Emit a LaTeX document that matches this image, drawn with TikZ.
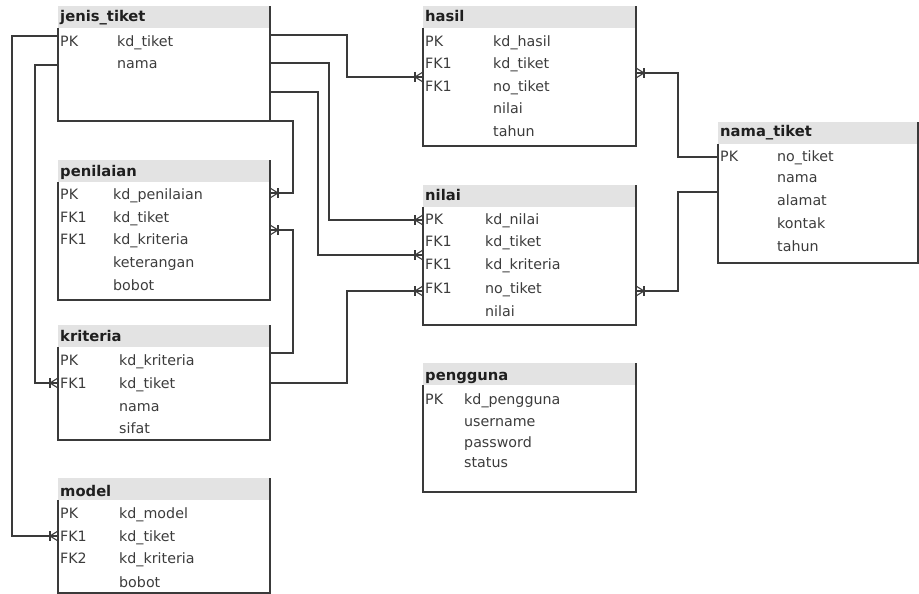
\documentclass[tikz,border=0pt]{standalone}
\usepackage{fontspec}
\setmainfont{DejaVu Sans}
\usetikzlibrary{calc}
\definecolor{hdr}{HTML}{E3E3E3}
\definecolor{ln}{HTML}{3A3A3A}
\definecolor{txt}{HTML}{3C3C3C}
\tikzset{
  tbl/.style={rectangle, inner sep=0pt, outer sep=0pt, anchor=north west, draw=none},
  ttl/.style={anchor=base west, font=\fontsize{14.8}{16}\selectfont\bfseries, text=black!88, inner sep=0pt},
  fld/.style={anchor=base west, font=\fontsize{14.3}{16}\selectfont, text=txt, inner sep=0pt},
  conn/.style={draw=ln, line width=1.1bp},
  border/.style={draw=ln, line width=1.2bp},
}
\newcommand{\erdtbl}[6]{%
  \node[tbl, minimum width=#4bp, minimum height=#5bp] (#1) at (#2,#3) {};
  \fill[hdr] (#1.north west) rectangle ($(#1.north east)+(0,22)$);
  \draw[border] ($(#1.north west)+(0,22)$) -- (#1.south west) -- (#1.south east) -- (#1.north east);
}
\newcommand{\crowfoot}[2]{%
  \begin{scope}[shift={#1}, rotate=#2]
    \draw[conn] (0,-5) -- (-8,0) -- (0,5);
    \draw[conn] (-8,-5) -- (-8,5);
  \end{scope}}
\begin{document}
\begin{tikzpicture}[x=1bp, y=-1bp]
\useasboundingbox (0,0) rectangle (919,594);
% tables
\erdtbl{jt}{58}{6}{212}{115}{}
\erdtbl{hasil}{423}{6}{213}{140}{}
\erdtbl{nt}{718}{122}{200}{141}{}
\erdtbl{pen}{58}{160}{212}{140}{}
\erdtbl{nilai}{423}{185}{213}{140}{}
\erdtbl{kri}{58}{325}{212}{115}{}
\erdtbl{peng}{423}{363}{213}{129}{}
\erdtbl{model}{58}{478}{212}{115}{}
% titles
\node[ttl] (jt-t) at (60,22) {jenis\_tiket};
\node[ttl] (hasil-t) at (425,22) {hasil};
\node[ttl] (nt-t) at (720,137) {nama\_tiket};
\node[ttl] (pen-t) at (60,177) {penilaian};
\node[ttl] (nilai-t) at (425,201) {nilai};
\node[ttl] (kri-t) at (60,341) {kriteria};
\node[ttl] (peng-t) at (425,380) {pengguna};
\node[ttl] (model-t) at (60,496) {model};
% rows
\foreach \k/\f/\y [count=\i] in {PK/kd\_tiket/47, /nama/69}
  {\node[fld] (jt-k\i) at (60,\y) {\k}; \node[fld] (jt-f\i) at (117,\y) {\f};}
\foreach \k/\f/\y [count=\i] in {PK/kd\_hasil/47, FK1/kd\_tiket/69, FK1/no\_tiket/92, /nilai/114, /tahun/137}
  {\node[fld] (hasil-k\i) at (425,\y) {\k}; \node[fld] (hasil-f\i) at (493,\y) {\f};}
\foreach \k/\f/\y [count=\i] in {PK/no\_tiket/162, /nama/183, /alamat/206, /kontak/229, /tahun/252}
  {\node[fld] (nt-k\i) at (720,\y) {\k}; \node[fld] (nt-f\i) at (777,\y) {\f};}
\foreach \k/\f/\y [count=\i] in {PK/kd\_penilaian/200, FK1/kd\_tiket/223, FK1/kd\_kriteria/245, /keterangan/268, /bobot/290}
  {\node[fld] (pen-k\i) at (60,\y) {\k}; \node[fld] (pen-f\i) at (113,\y) {\f};}
\foreach \k/\f/\y [count=\i] in {PK/kd\_nilai/225, FK1/kd\_tiket/247, FK1/kd\_kriteria/270, FK1/no\_tiket/293, /nilai/316}
  {\node[fld] (nilai-k\i) at (425,\y) {\k}; \node[fld] (nilai-f\i) at (485,\y) {\f};}
\foreach \k/\f/\y [count=\i] in {PK/kd\_kriteria/365, FK1/kd\_tiket/388, /nama/411, /sifat/433}
  {\node[fld] (kri-k\i) at (60,\y) {\k}; \node[fld] (kri-f\i) at (119,\y) {\f};}
\foreach \k/\f/\y [count=\i] in {PK/kd\_pengguna/404, /username/426, /password/447, /status/467}
  {\node[fld] (peng-k\i) at (425,\y) {\k}; \node[fld] (peng-f\i) at (464,\y) {\f};}
\foreach \k/\f/\y [count=\i] in {PK/kd\_model/518, FK1/kd\_tiket/541, FK2/kd\_kriteria/563, /bobot/587}
  {\node[fld] (model-k\i) at (60,\y) {\k}; \node[fld] (model-f\i) at (119,\y) {\f};}
% connectors
\draw[conn] ($(jt.north west)+(0,30)$) -- ++(-46,0) |- ($(model.north west)+(0,58)$) coordinate (c1e);
\draw[conn] ($(jt.north west)+(0,59)$) -- ++(-23,0) |- ($(kri.north west)+(0,58)$) coordinate (c2e);
\draw[conn] ($(jt.north east)+(0,29)$) -- ++(77,0) |- ($(hasil.north west)+(0,71)$) coordinate (c3e);
\draw[conn] ($(jt.north east)+(0,57)$) -- ++(59,0) |- ($(nilai.north west)+(0,35)$) coordinate (c4e);
\draw[conn] ($(jt.north east)+(0,86)$) -- ++(48,0) |- ($(nilai.north west)+(0,70)$) coordinate (c5e);
\draw[conn] (jt.south east) -- ++(23,0) |- ($(pen.north east)+(0,33)$) coordinate (c6e);
\draw[conn] ($(kri.north east)+(0,28)$) -- ++(23,0) |- ($(pen.north east)+(0,70)$) coordinate (c7e);
\draw[conn] ($(kri.north east)+(0,58)$) -- ++(77,0) |- ($(nilai.north west)+(0,106)$) coordinate (c8e);
\draw[conn] ($(nt.north west)+(0,35)$) -- ++(-40,0) |- ($(hasil.north east)+(0,67)$) coordinate (c9e);
\draw[conn] ($(nt.north west)+(0,70)$) -- ++(-40,0) |- ($(nilai.north east)+(0,106)$) coordinate (c10e);
% crow's feet
\crowfoot{(c1e)}{0}
\crowfoot{(c2e)}{0}
\crowfoot{(c3e)}{0}
\crowfoot{(c4e)}{0}
\crowfoot{(c5e)}{0}
\crowfoot{(c6e)}{180}
\crowfoot{(c7e)}{180}
\crowfoot{(c8e)}{0}
\crowfoot{(c9e)}{180}
\crowfoot{(c10e)}{180}
\end{tikzpicture}
\end{document}
